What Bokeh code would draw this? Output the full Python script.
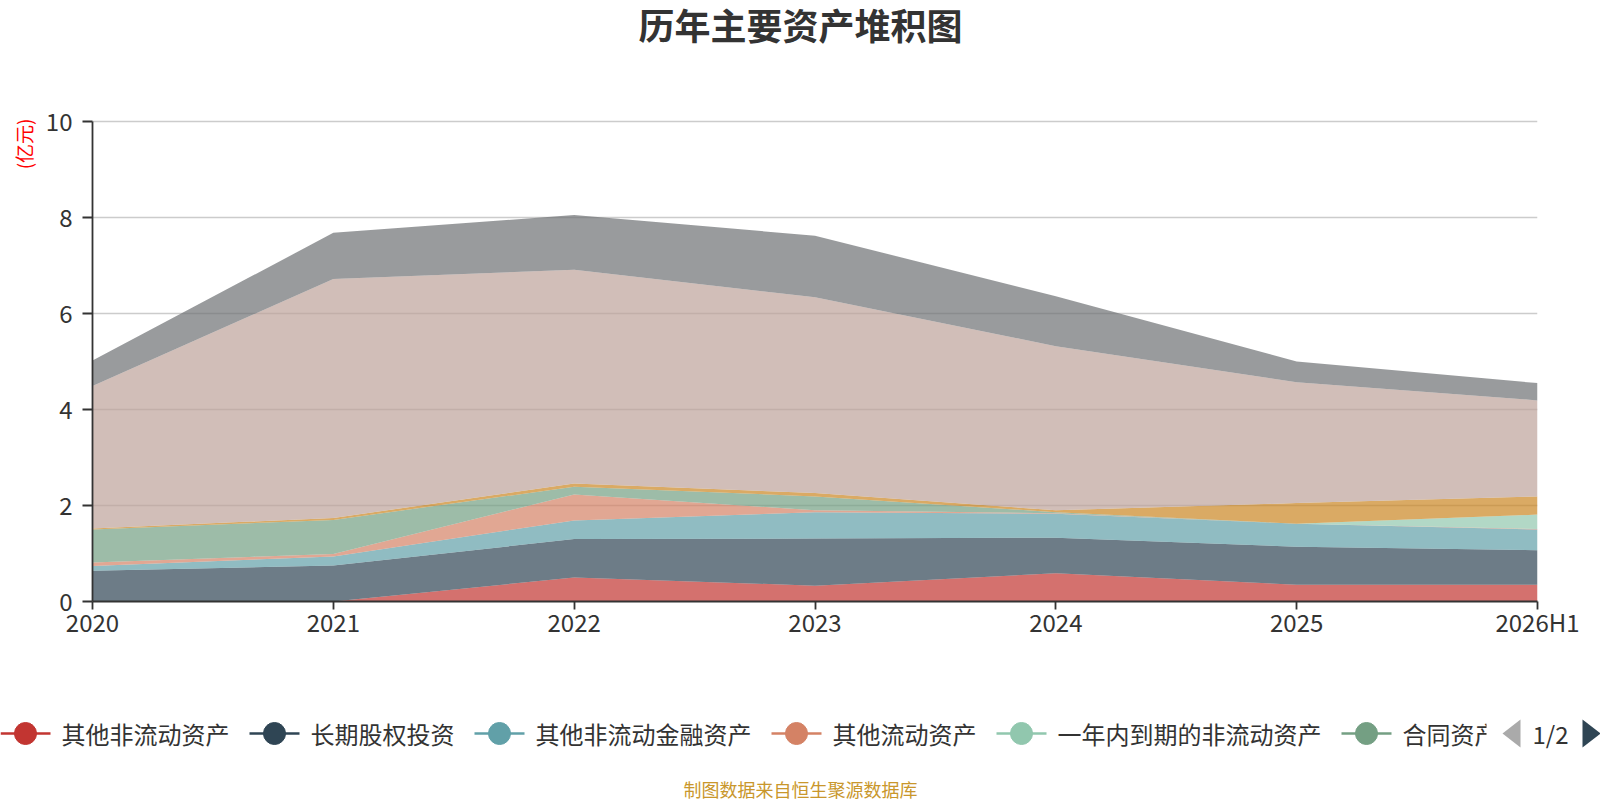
from bokeh.plotting import figure
from bokeh.models import ColumnDataSource, Range1d, FixedTicker, Title
from bokeh.core.properties import value
from bokeh.embed import file_html
from bokeh.resources import INLINE

# ---------------- data ----------------
years = ["2020", "2021", "2022", "2023", "2024", "2025", "2026H1"]
series_names = ["其他非流动资产", "长期股权投资", "其他非流动金融资产", "其他流动资产",
                "一年内到期的非流动资产", "合同资产", "存货", "应收账款", "货币资金"]
s_other_noncurrent = [0.00, 0.00, 0.50, 0.33, 0.59, 0.35, 0.35]
s_lt_equity = [0.64, 0.75, 0.80, 0.98, 0.74, 0.79, 0.72]
s_other_nc_fin = [0.10, 0.19, 0.39, 0.55, 0.50, 0.48, 0.43]
s_other_current = [0.07, 0.05, 0.54, 0.04, 0.01, 0.00, 0.01]
s_due_within_year = [0.00, 0.00, 0.00, 0.00, 0.00, 0.00, 0.30]
s_contract = [0.69, 0.71, 0.16, 0.29, 0.02, 0.00, 0.00]
s_inventory = [0.02, 0.04, 0.07, 0.07, 0.04, 0.43, 0.38]
s_receivable = [2.97, 4.98, 4.45, 4.08, 3.42, 2.52, 2.00]
s_cash = [0.53, 0.96, 1.14, 1.28, 1.04, 0.43, 0.36]
y_ticks = [0, 2, 4, 6, 8, 10]
legend_page_text = "1/2"
title_text = "历年主要资产堆积图"
unit_text = "(亿元)"
source_text = "制图数据来自恒生聚源数据库"

colors = ["#c23531", "#2f4554", "#61a0a8", "#d48265", "#91c7ae",
          "#749f83", "#ca8622", "#bda29a", "#6e7074"]
all_series = [s_other_noncurrent, s_lt_equity, s_other_nc_fin, s_other_current,
              s_due_within_year, s_contract, s_inventory, s_receivable, s_cash]

FONT = "Noto Sans CJK SC"

data = {"x": list(range(len(years)))}
keys = []
for i, s in enumerate(all_series):
    k = f"s{i}"
    keys.append(k)
    data[k] = s
source = ColumnDataSource(data)

# ---------------- main chart ----------------
FW, FH = 1445, 601          # frame size in px (frame reaches the top of the canvas)
PX_PER_UNIT = 48.0          # vertical pixels per value unit
y_top = FH / PX_PER_UNIT
n_x = len(years) - 1

p = figure(frame_width=FW, frame_height=FH,
           min_border_left=92, min_border_right=63,
           min_border_top=0, min_border_bottom=49,
           x_range=Range1d(0, n_x), y_range=Range1d(0, y_top),
           output_backend="svg", toolbar_location=None,
           background_fill_color="white", border_fill_color="white")
p.outline_line_color = None
p.title.text = ""
p.title.standoff = 0

p.add_layout(Title(text=unit_text, align="right", offset=118, text_font=FONT,
                   text_font_size="19px", text_font_style="normal",
                   text_color="#ff0000", standoff=11), "left")

p.varea_stack(keys, x="x", source=source, color=colors, fill_alpha=0.7)

# title drawn inside the (tall) frame, above the value area
def px_to_x(px):
    return (px - 92) / FW * n_x

def py_to_y(py):
    return (FH - py) / PX_PER_UNIT

p.text([px_to_x(800)], [py_to_y(23.5)], text=[title_text], text_font=value(FONT),
       text_font_size="36px", text_font_style="bold", text_color="#333333",
       text_align="center", text_baseline="middle")

p.xaxis.ticker = FixedTicker(ticks=list(range(len(years))))
p.xaxis.major_label_overrides = {i: y for i, y in enumerate(years)}
p.yaxis.ticker = FixedTicker(ticks=y_ticks)
p.yaxis.bounds = (0, 10)
for ax in (p.xaxis, p.yaxis):
    ax.axis_line_color = "#333333"
    ax.axis_line_width = 1.8
    ax.major_tick_line_color = "#333333"
    ax.major_tick_line_width = 1.8
    ax.major_tick_in = 0
    ax.minor_tick_line_color = None
    ax.major_label_text_font = FONT
    ax.major_label_text_font_size = "24px"
    ax.major_label_text_color = "#333333"
p.xaxis.major_tick_out = 8
p.xaxis.major_label_standoff = -6
p.yaxis.major_tick_out = 10
p.yaxis.major_label_standoff = 10

p.xgrid.grid_line_color = None
p.ygrid.grid_line_color = "#cccccc"
p.ygrid.grid_line_width = 1.5
p.ygrid.level = "underlay"

# ---------------- legend / footer (separate root, pixel coordinates) ----------------
LW, LH = 1600, 149
leg = figure(frame_width=LW, frame_height=LH, min_border=0,
             min_border_left=0, min_border_right=0, min_border_top=0, min_border_bottom=0,
             x_range=Range1d(0, LW), y_range=Range1d(0, LH),
             output_backend="svg", toolbar_location=None,
             x_axis_location=None, y_axis_location=None,
             background_fill_color="white", border_fill_color="white")
leg.outline_line_color = None
leg.grid.grid_line_color = None

ly = LH - 83
char_w = 24
start = 0
for name, c in zip(series_names[:6], colors[:6]):
    leg.line([start, start + 50], [ly, ly], line_color=c, line_width=2.5)
    leg.scatter([start + 25], [ly], size=22, fill_color=c, line_color=c)
    leg.text([start + 61], [ly], text=[name], text_font=value(FONT),
             text_font_size="24px", text_color="#333333",
             text_align="left", text_baseline="middle")
    start = start + 61 + len(name) * char_w + 20

# clip the last (partially shown) legend item
leg.quad(left=[1486], right=[1501], bottom=[0], top=[LH],
         fill_color="white", line_color=None)
# pager arrows and text
leg.patch([1520, 1520, 1502], [ly + 14, ly - 14, ly], fill_color="#aaaaaa", line_color=None)
leg.text([1532], [ly], text=[legend_page_text], text_font=value(FONT),
         text_font_size="24px", text_color="#333333",
         text_align="left", text_baseline="middle")
leg.patch([1582, 1582, 1600], [ly + 14, ly - 14, ly], fill_color="#2f4554", line_color=None)

leg.text([800], [LH - 138], text=[source_text], text_font=value(FONT),
         text_font_size="18px", text_color="#c9972c",
         text_align="center", text_baseline="middle")

open("out.html", "w").write(file_html([p, leg], INLINE))
